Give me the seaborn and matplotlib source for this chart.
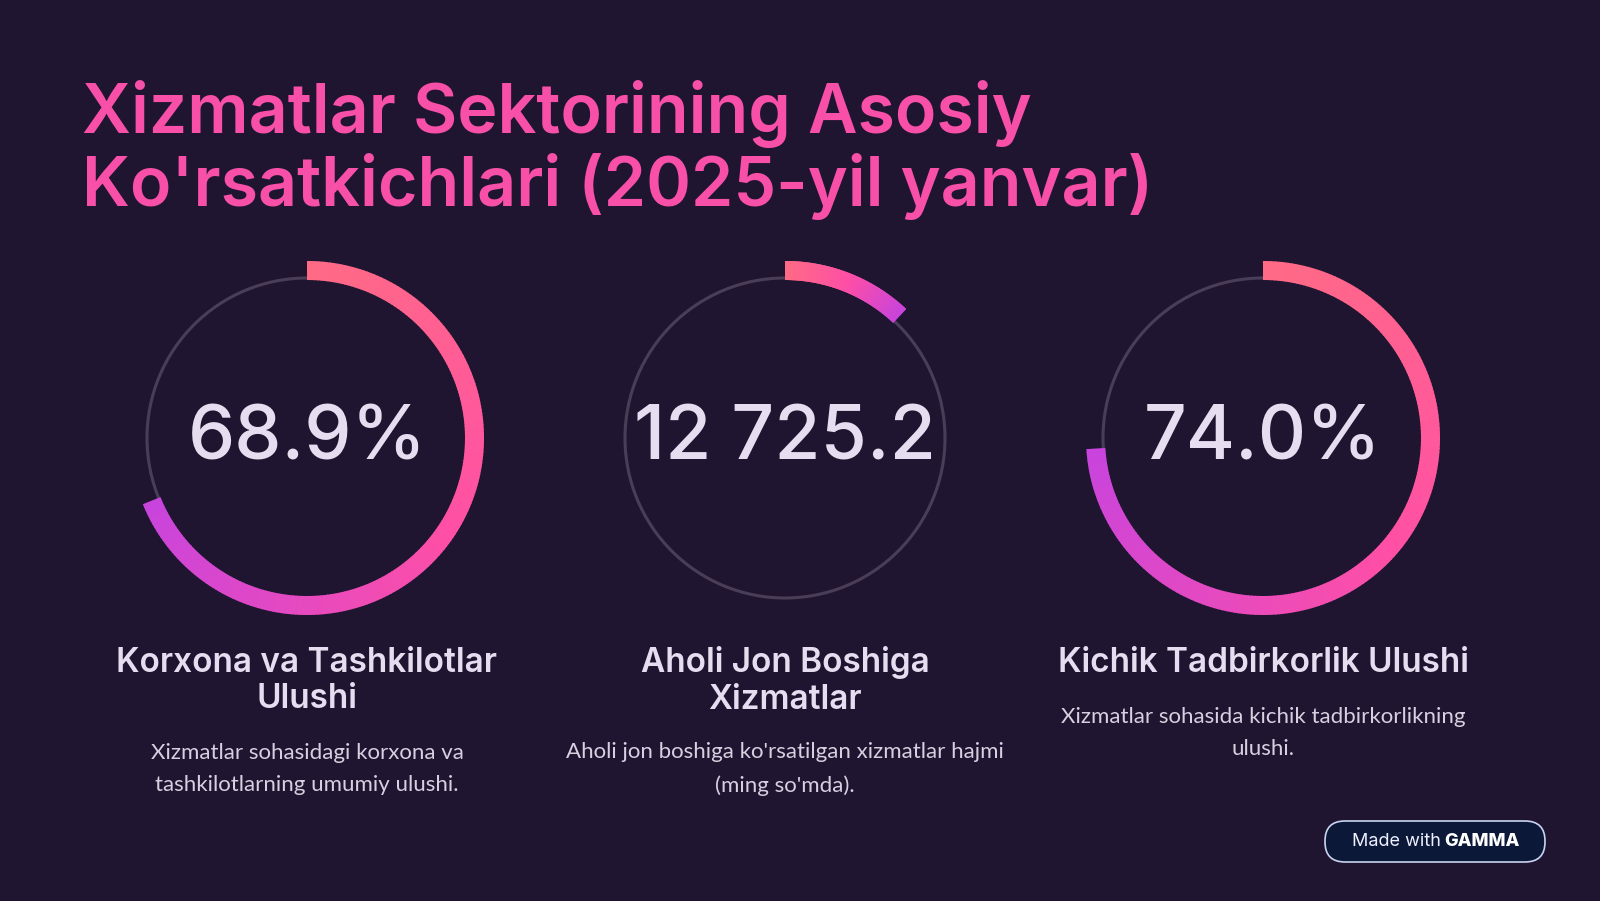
import numpy as np
import matplotlib.pyplot as plt
import matplotlib.colors as mcolors
from matplotlib.patches import Wedge, Circle, FancyBboxPatch
import seaborn as sns

# chart data
shares = [68.9, 12.0, 74.0]          # share of ring filled (second ring)
big_values = ['68.9%', '12 725.2', '74.0%']
headers = ['Korxona va Tashkilotlar\nUlushi', 'Aholi Jon Boshiga\nXizmatlar', 'Kichik Tadbirkorlik Ulushi']
descriptions = ['Xizmatlar sohasidagi korxona va\ntashkilotlarning umumiy ulushi.',
                "Aholi jon boshiga ko'rsatilgan xizmatlar hajmi\n(ming so'mda).",
                'Xizmatlar sohasida kichik tadbirkorlikning\nulushi.']
title = "Xizmatlar Sektorining Asosiy\nKo'rsatkichlari (2025-yil yanvar)"

sns.set_theme(style='white')
plt.rcParams['font.family'] = ['Inter', 'DejaVu Sans']

bg = '#201530'
fig = plt.figure(figsize=(16, 9.01), dpi=100, facecolor=bg)
ax = fig.add_axes([0, 0, 1, 1])
ax.set_facecolor(bg)
ax.set_xlim(0, 1600)
ax.set_ylim(901, 0)
ax.axis('off')

grad = mcolors.LinearSegmentedColormap.from_list('ring', ['#ff6b85', '#ff4fa6', '#c844dd'])

centers = [307, 785, 1263]
cy = 438
for cx, share, val, head, desc in zip(centers, shares, big_values, headers, descriptions):
    ax.add_patch(Circle((cx, cy), 160, fill=False, ec='#4a3d58', lw=2.2))
    n = 200
    sweep = 360 * share / 100
    # y axis is inverted, so angles run clockwise on screen
    for i in range(n):
        a0 = -90 + sweep * i / n
        a1 = -90 + sweep * (i + 1) / n + 0.3
        ax.add_patch(Wedge((cx, cy), 177, a0, min(a1, -90 + sweep), width=19,
                           color=grad(i / n), lw=0))
    ax.text(cx, cy + 2, val, ha='center', va='center', fontsize=54, color='#e6def0',
            fontweight='medium')
    two = '\n' in head
    ax.text(cx, 681 if two else 663, head, ha='center', va='center', fontsize=24,
            color='#e6def0', fontweight='semibold', linespacing=1.2)
    ax.text(cx, 769 if two else 733, desc, ha='center', va='center',
            fontsize=16, color='#d8d0e0', family=['Lato', 'DejaVu Sans'], linespacing=1.8)

ax.text(82, 150, title, ha='left', va='center', fontsize=49, color='#f850a8',
        fontweight='semibold', linespacing=1.1)

ax.add_patch(FancyBboxPatch((1325, 821), 220, 41, boxstyle='round,pad=0,rounding_size=20',
                            fc='#0c1838', ec='#c8d4f0', lw=1.2))
ax.text(1352, 842, 'Made with', ha='left', va='center', fontsize=13, color='#eef0ff')
ax.text(1444, 842, 'GAMMA', ha='left', va='center', fontsize=13, color='#ffffff',
        fontweight='heavy')

fig.savefig('out.png', facecolor=bg)
